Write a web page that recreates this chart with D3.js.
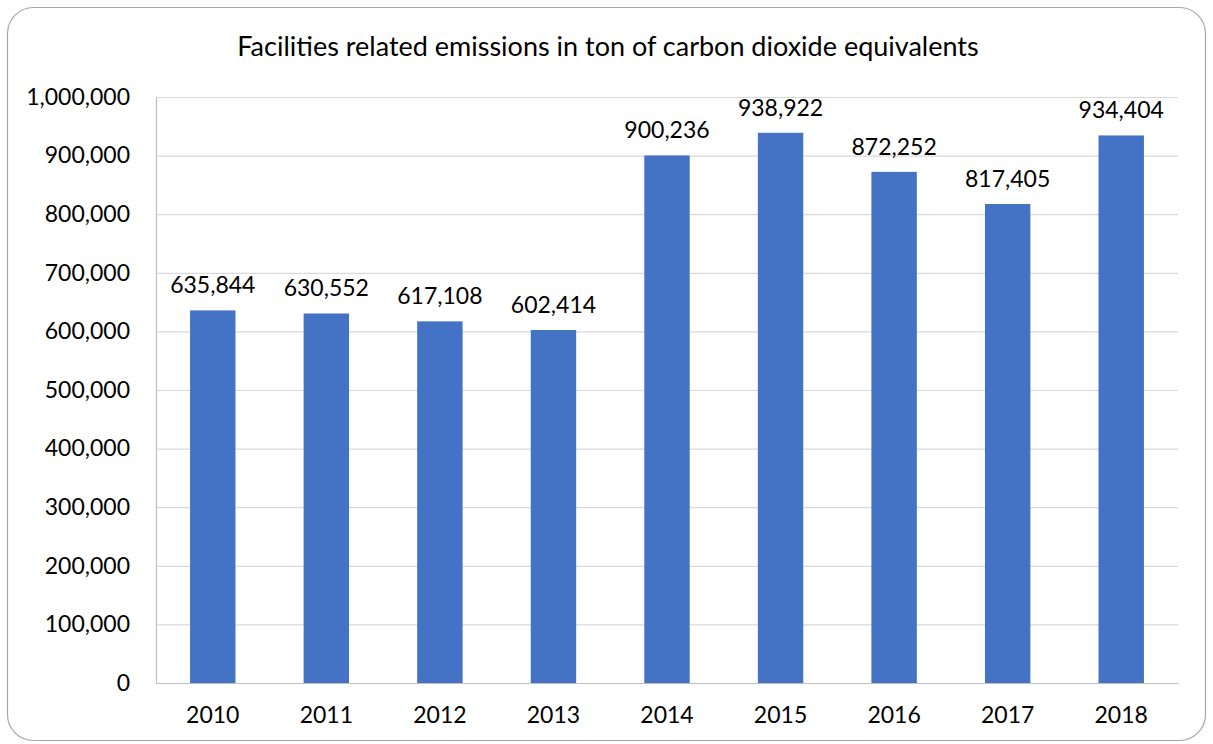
<!DOCTYPE html>
<html>
<head>
<meta charset="utf-8">
<script src="https://cdn.jsdelivr.net/npm/d3@7"></script>
<style>
  body { margin: 0; background: #fff; }
  text { font-family: Lato, "Open Sans", sans-serif; fill: #000; }
</style>
</head>
<body>
<svg id="chart" width="1213" height="744"></svg>
<script>
// chart data
var years = ["2010", "2011", "2012", "2013", "2014", "2015", "2016", "2017", "2018"];
var emissions = [635844, 630552, 617108, 602414, 900236, 938922, 872252, 817405, 934404];
var yTicks = [0, 100000, 200000, 300000, 400000, 500000, 600000, 700000, 800000, 900000, 1000000];
var title = "Facilities related emissions in ton of carbon dioxide equivalents";

var svg = d3.select("#chart");
var fmt = d3.format(",");

var plotLeft = 156, plotRight = 1178, plotTop = 97, plotBottom = 683;

// outer rounded frame
svg.append("rect")
    .attr("x", 7.5)
    .attr("y", 7.5)
    .attr("width", 1198)
    .attr("height", 733)
    .attr("rx", 26)
    .attr("fill", "none")
    .attr("stroke", "#a6a6a6")
    .attr("stroke-width", 1.2);

svg.append("text")
    .attr("x", 608)
    .attr("y", 56)
    .attr("text-anchor", "middle")
    .attr("font-size", 27)
    .text(title);

var x = d3.scaleBand()
    .domain(years)
    .range([plotLeft, plotRight])
    .paddingInner(0.6)
    .paddingOuter(0.3);

var y = d3.scaleLinear()
    .domain([0, 1000000])
    .range([plotBottom, plotTop]);

// gridlines
svg.append("g")
    .selectAll("line")
    .data(yTicks.slice(1))
    .join("line")
    .attr("x1", plotLeft)
    .attr("x2", plotRight)
    .attr("y1", d => y(d) + 0.5)
    .attr("y2", d => y(d) + 0.5)
    .attr("stroke", "#d9d9d9")
    .attr("stroke-width", 1.2);

// y axis
var yAxis = svg.append("g")
    .attr("transform", "translate(" + plotLeft + ",0)")
    .call(d3.axisLeft(y).tickValues(yTicks).tickFormat(fmt).tickSize(0).tickPadding(26));
yAxis.select(".domain").attr("stroke", "#bfbfbf").attr("stroke-width", 1.2);
yAxis.selectAll("text").attr("font-size", 23).attr("font-family", "Lato, sans-serif");

// bars
svg.append("g")
    .selectAll("rect")
    .data(emissions)
    .join("rect")
    .attr("x", (d, i) => x(years[i]))
    .attr("y", d => y(d))
    .attr("width", x.bandwidth())
    .attr("height", d => y(0) - y(d))
    .attr("fill", "#4472c4");

// value labels
svg.append("g")
    .selectAll("text")
    .data(emissions)
    .join("text")
    .attr("x", (d, i) => x(years[i]) + x.bandwidth() / 2)
    .attr("y", d => y(d) - 17)
    .attr("text-anchor", "middle")
    .attr("font-size", 23)
    .text(d => fmt(d));

// x axis
var xAxis = svg.append("g")
    .attr("transform", "translate(0," + plotBottom + ")")
    .call(d3.axisBottom(x).tickSize(0).tickPadding(24));
xAxis.select(".domain").attr("stroke", "#bfbfbf").attr("stroke-width", 1.2);
xAxis.selectAll("text").attr("font-size", 23).attr("font-family", "Lato, sans-serif");
</script>
</body>
</html>
